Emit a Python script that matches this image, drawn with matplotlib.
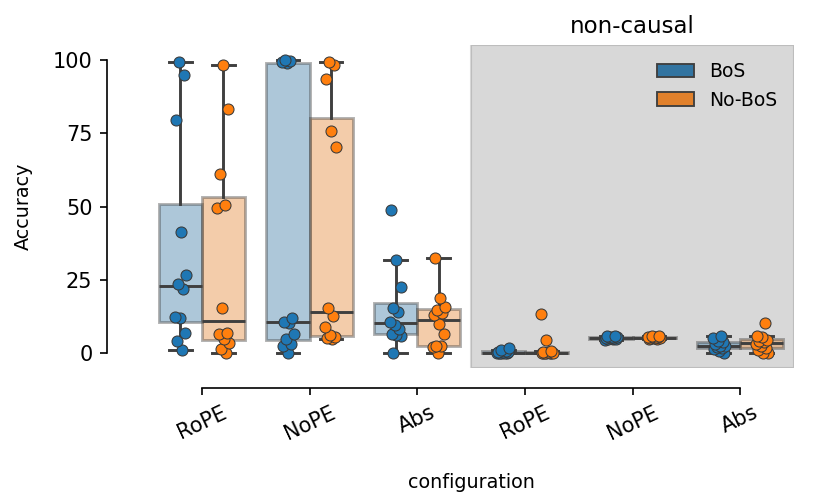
import numpy as np
import matplotlib
matplotlib.use("Agg")
import matplotlib.pyplot as plt
from matplotlib.colors import to_rgba
from matplotlib.patches import Patch
import matplotlib.transforms as mtransforms

# ---------------- data ----------------
configs = ["RoPE", "NoPE", "Abs", "RoPE", "NoPE", "Abs"]
hues = ["BoS", "No-BoS"]

bos_rope_causal = [1.1, 4.2, 6.8, 12.1, 12.5, 22.0, 23.7, 26.6, 41.3, 79.6, 94.9, 99.4]
bos_nope_causal = [0.2, 2.5, 3.1, 4.8, 6.5, 10.3, 10.8, 12.1, 98.9, 99.3, 99.6, 100.0]
bos_abs_causal = [0.0, 5.9, 6.2, 6.7, 8.2, 9.8, 10.6, 14.2, 15.5, 22.6, 31.9, 49.0]
bos_rope_noncausal = [0.0, 0.0, 0.0, 0.0, 0.1, 0.2, 0.3, 0.4, 0.6, 0.9, 1.3, 1.9]
bos_nope_noncausal = [4.6, 4.8, 4.9, 5.0, 5.1, 5.2, 5.3, 5.4, 5.5, 5.6, 5.8, 6.0]
bos_abs_noncausal = [0.2, 0.8, 1.4, 1.8, 2.2, 2.4, 2.6, 3.2, 3.8, 4.2, 5.3, 5.9]

nobos_rope_causal = [0.2, 1.4, 3.6, 4.8, 6.5, 7.0, 15.3, 49.6, 50.7, 61.0, 83.2, 98.3]
nobos_nope_causal = [4.9, 5.1, 5.4, 6.2, 9.1, 12.7, 15.3, 70.3, 75.8, 93.4, 98.3, 99.4]
nobos_abs_causal = [0.0, 2.3, 2.5, 2.5, 6.5, 9.9, 12.9, 13.8, 14.7, 15.9, 18.9, 32.5]
nobos_rope_noncausal = [0.0, 0.0, 0.0, 0.0, 0.0, 0.1, 0.2, 0.3, 0.5, 0.8, 4.4, 13.3]
nobos_nope_noncausal = [4.9, 5.0, 5.1, 5.2, 5.3, 5.3, 5.4, 5.5, 5.6, 5.7, 5.8, 5.9]
nobos_abs_noncausal = [0.0, 0.2, 1.3, 1.8, 2.5, 3.3, 3.9, 4.2, 4.6, 5.5, 5.9, 10.4]

bos_groups = [bos_rope_causal, bos_nope_causal, bos_abs_causal,
              bos_rope_noncausal, bos_nope_noncausal, bos_abs_noncausal]
nobos_groups = [nobos_rope_causal, nobos_nope_causal, nobos_abs_causal,
                nobos_rope_noncausal, nobos_nope_noncausal, nobos_abs_noncausal]

yticks = [0, 25, 50, 75, 100]

# ---------------- style ----------------
box_colors = ["#3274a1", "#e1812c"]
point_colors = ["#1f77b4", "#ff7f0e"]
line_color = "#3f3f3f"

fig = plt.figure(figsize=(830 / 150, 503 / 150), dpi=150)
ax = fig.add_axes([148 / 830, 1 - 368 / 503, (794 - 148) / 830, (368 - 45.3) / 503])

# non-causal shaded region
ax.axvspan(2.5, 5.5, color="gray", alpha=0.3, zorder=0, lw=1)

x = np.arange(len(configs))
box_w = 0.4
for h, groups in enumerate([bos_groups, nobos_groups]):
    offset = (h - 0.5) * box_w
    pos = x + offset
    ax.boxplot(groups, positions=pos, widths=box_w, patch_artist=True,
               showfliers=False, capwidths=0.21, manage_ticks=False,
               boxprops=dict(facecolor=to_rgba(box_colors[h], 0.4),
                             edgecolor=to_rgba(line_color, 0.4), linewidth=1.4),
               whiskerprops=dict(color=line_color, linewidth=1.4),
               capprops=dict(color=line_color, linewidth=1.4),
               medianprops=dict(color=line_color, linewidth=1.4),
               zorder=2)
    # strip points with deterministic jitter
    for i, vals in enumerate(groups):
        n = len(vals)
        jit = (((np.arange(n) + 1 + 3 * i + 5 * h) * 0.618034) % 1 - 0.5) * 0.12
        ax.scatter(np.full(n, pos[i]) + jit, vals, s=5.3 ** 2,
                   color=point_colors[h], edgecolors="#3a3a3a",
                   linewidths=0.5, zorder=3)

ax.set_xlim(-0.5, 5.5)
ax.set_ylim(-5, 105)
ax.set_xticks(x)
ax.set_xticklabels(configs, fontsize=8.8)
ax.tick_params(axis="x", labelrotation=25)
ax.set_yticks(yticks)
ax.set_yticklabels([str(t) for t in yticks], fontsize=8.8)
ax.set_xlabel("configuration", fontsize=9.2, labelpad=14)
ax.set_ylabel("Accuracy", fontsize=9.2, labelpad=9.5)

for s in ["top", "right"]:
    ax.spines[s].set_visible(False)
ax.spines["left"].set_position(("outward", 19.7))
ax.spines["bottom"].set_position(("outward", 9.6))
ax.spines["left"].set_bounds(0, 100)
ax.spines["bottom"].set_bounds(0, 5)
ax.tick_params(width=0.8)

# region title
trans = mtransforms.blended_transform_factory(ax.transData, ax.transAxes)
ax.text(4, 1.037, "non-causal", transform=trans, ha="center", va="baseline",
        fontsize=11)

handles = [Patch(facecolor=box_colors[k], edgecolor=line_color, linewidth=0.9,
                 label=hues[k]) for k in range(2)]
ax.legend(handles=handles, loc="upper right", frameon=False, fontsize=9)

fig.savefig("out.png", dpi=150)
